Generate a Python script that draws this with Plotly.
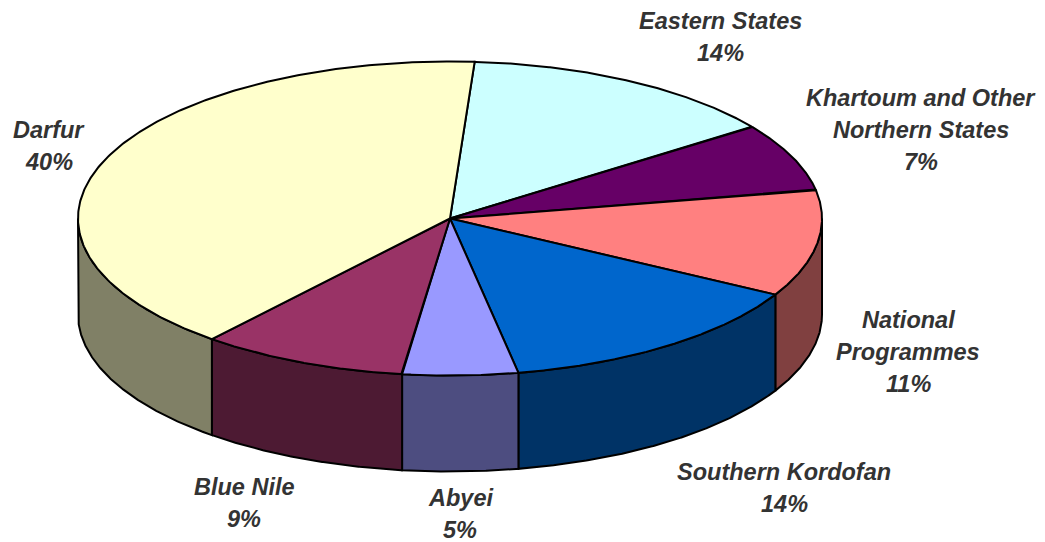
import numpy as np
import plotly.graph_objects as go

# ---- data (clockwise from the top of the pie) ----
categories = ["Eastern States", "Khartoum and Other Northern States", "National Programmes",
              "Southern Kordofan", "Abyei", "Blue Nile", "Darfur"]
shares = [14, 7, 11, 14, 5, 9, 40]
label_lines = [["Eastern States", "14%"],
               ["Khartoum and Other", "Northern States", "7%"],
               ["National", "Programmes", "11%"],
               ["Southern Kordofan", "14%"],
               ["Abyei", "5%"],
               ["Blue Nile", "9%"],
               ["Darfur", "40%"]]

# ---- styles / positions ----
top_colors = ["#CCFFFF", "#660066", "#FF8080", "#0066CC", "#9999FF", "#993366", "#FFFFCC"]
side_colors = ["#668080", "#330033", "#804040", "#003366", "#4D4D80", "#4D1A33", "#808066"]
label_pos = [(720, 21), (921, 98), (908, 320), (784, 472), (460, 498), (244, 487), (49, 130)]
line_gap = 32

CX, CY, RX, RY, DEPTH = 450, 218.5, 372, 157, 96
START = 3.8  # degrees, clockwise from top
PAGE_OFFSET = 8  # default body margin of the html page


def pt(theta_deg, dy=0.0):
    t = np.radians(theta_deg)
    return CX + RX * np.sin(t), CY - RY * np.cos(t) + dy


fig = go.Figure()

total = sum(shares)
bounds = []
a = START
for v in shares:
    b = a + 360.0 * v / total
    bounds.append((a, b))
    a = b

# side faces (front half: 90..270 deg)
for (a0, a1), col in zip(bounds, side_colors):
    lo, hi = max(a0, 90.0), min(a1, 270.0)
    if hi <= lo:
        continue
    th = np.linspace(lo, hi, 200)
    xt, yt = pt(th)
    xb, yb = pt(th[::-1], DEPTH)
    xs = np.concatenate([xt, xb, xt[:1]])
    ys = np.concatenate([yt, yb, yt[:1]])
    fig.add_trace(go.Scatter(x=xs, y=ys, mode="lines", fill="toself", fillcolor=col,
                             line=dict(color="black", width=2), hoverinfo="skip",
                             showlegend=False))

# top faces
for (a0, a1), col, name in zip(bounds, top_colors, categories):
    th = np.linspace(a0, a1, 300)
    xa, ya = pt(th)
    xs = np.concatenate([[CX], xa, [CX]])
    ys = np.concatenate([[CY], ya, [CY]])
    fig.add_trace(go.Scatter(x=xs, y=ys, mode="lines", fill="toself", fillcolor=col,
                             line=dict(color="black", width=2), name=name,
                             hoverinfo="name", showlegend=False))

# labels
for lines, (lx, ly) in zip(label_lines, label_pos):
    for i, txt in enumerate(lines):
        fig.add_annotation(x=lx, y=ly + i * line_gap, text="<b><i>%s</i></b>" % txt,
                           showarrow=False, xanchor="center", yanchor="middle",
                           font=dict(family="Liberation Sans, Arial, sans-serif",
                                     size=23.5, color="#333333"))

fig.update_layout(
    width=1045, height=542,
    margin=dict(l=0, r=0, t=0, b=0),
    paper_bgcolor="white", plot_bgcolor="white",
    xaxis=dict(range=[PAGE_OFFSET, 1045 + PAGE_OFFSET], visible=False, fixedrange=True),
    yaxis=dict(range=[542 + PAGE_OFFSET, PAGE_OFFSET], visible=False, fixedrange=True),
    showlegend=False,
)

fig.write_html("out.html")
